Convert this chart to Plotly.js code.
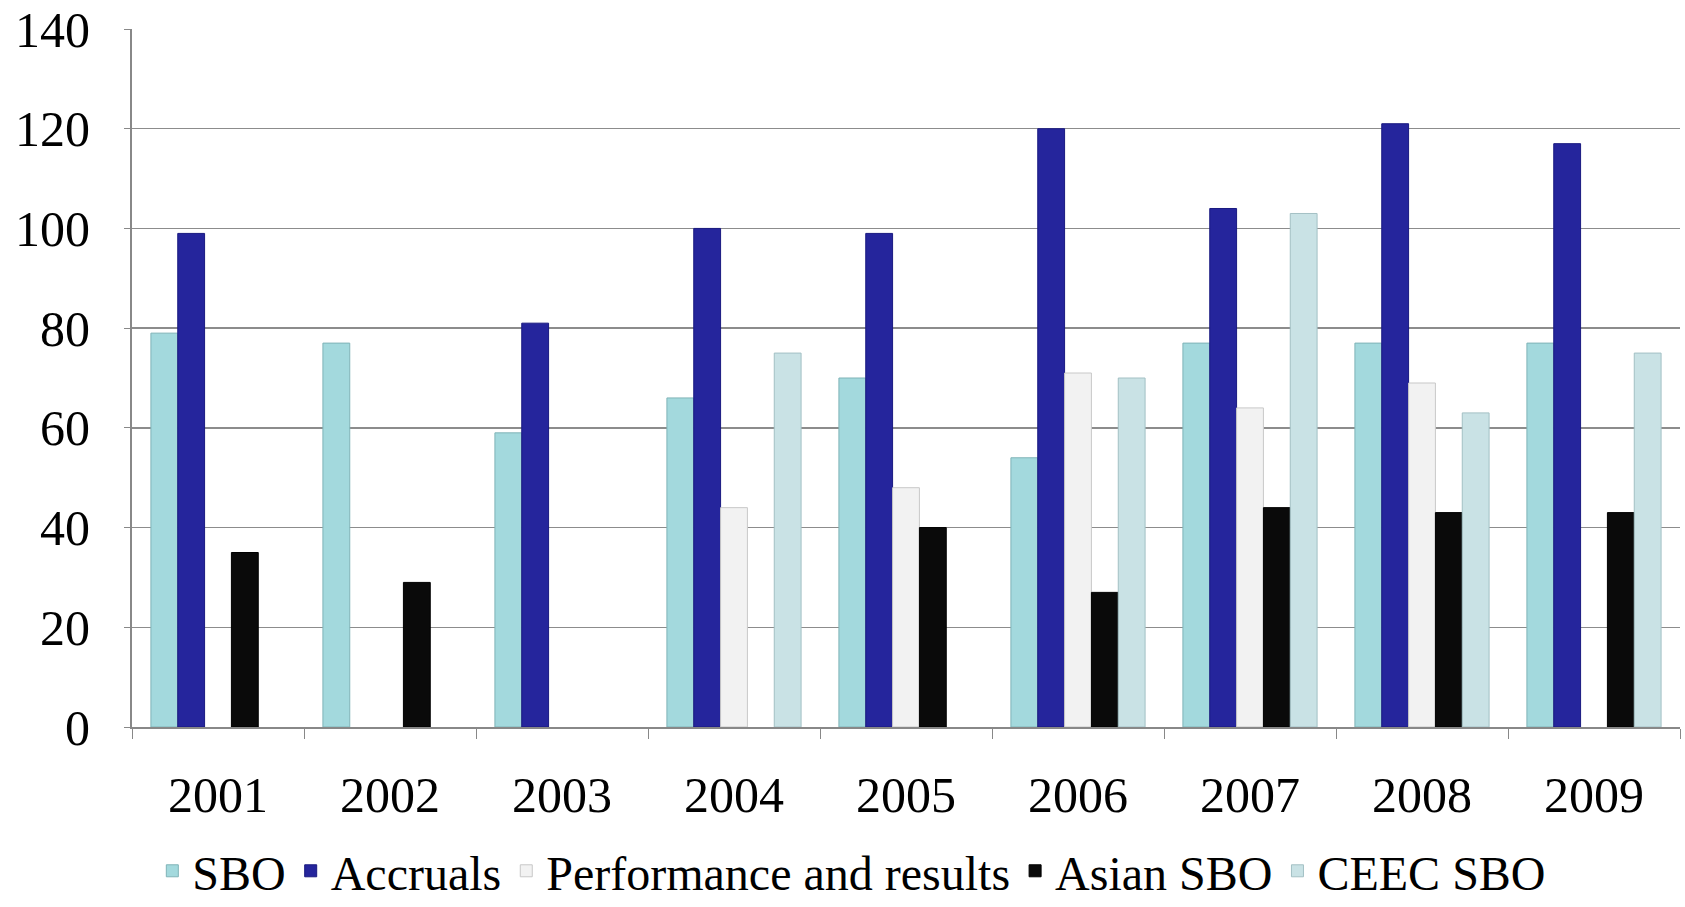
<!DOCTYPE html>
<html>
<head>
<meta charset="utf-8">
<script src="https://cdn.plot.ly/plotly-3.0.1.min.js"></script>
<style>html,body{margin:0;padding:0;background:#fff;}#chart{width:1685px;height:907px;}</style>
</head>
<body>
<div id="chart"></div>
<script>
const years = ["2001","2002","2003","2004","2005","2006","2007","2008","2009"];
const sbo = [79, 77, 59, 66, 70, 54, 77, 77, 77];
const accruals = [99, null, 81, 100, 99, 120, 104, 121, 117];
const performance = [null, null, null, 44, 48, 71, 64, 69, null];
const asianSbo = [35, 29, null, null, 40, 27, 44, 43, 43];
const ceecSbo = [null, null, null, 75, null, 70, 103, 63, 75];
const yTicks = [0, 20, 40, 60, 80, 100, 120, 140];

const series = [
  {name: "SBO", y: sbo, color: "#a3d9dd", line: "#7fb3b7"},
  {name: "Accruals", y: accruals, color: "#25259c", line: "#1a1a80"},
  {name: "Performance and results", y: performance, color: "#f2f2f2", line: "#c8c8c8"},
  {name: "Asian SBO", y: asianSbo, color: "#0a0a0a", line: "#000000"},
  {name: "CEEC SBO", y: ceecSbo, color: "#c9e2e5", line: "#a3c0c4"}
];

const font = "Liberation Serif, Times New Roman, serif";
const traces = series.map(s => ({
  type: "bar", name: s.name, x: years, y: s.y,
  marker: {color: s.color, line: {color: s.line, width: 1}}
}));

const layout = {
  width: 1685, height: 907,
  margin: {l: 132, r: 5, t: 29, b: 180, autoexpand: false},
  paper_bgcolor: "#fff", plot_bgcolor: "#fff",
  barmode: "group", bargap: 0.22, bargroupgap: 0,
  font: {family: font, color: "#000", size: 50},
  xaxis: {
    type: "category", tickson: "boundaries", ticks: "outside", ticklen: 10,
    tickcolor: "#888", showline: true, linecolor: "#888", linewidth: 2,
    tickfont: {family: font, size: 50}, ticklabelstandoff: 23, showgrid: false
  },
  yaxis: {
    range: [0, 140], tickvals: yTicks, ticktext: yTicks.map(String),
    ticks: "outside", ticklen: 6, tickcolor: "#888",
    showline: true, linecolor: "#888", linewidth: 2,
    showgrid: true, gridcolor: "#8c8c8c", gridwidth: 1.5, zeroline: false,
    tickfont: {family: font, size: 50}, ticklabelstandoff: 24
  },
  showlegend: true,
  legend: {
    orientation: "h", x: 0.465, xanchor: "center", y: -0.152, yanchor: "top",
    font: {family: font, size: 48}, itemwidth: 30, tracegroupgap: 0
  }
};

Plotly.newPlot("chart", traces, layout, {displayModeBar: false, staticPlot: true});
</script>
</body>
</html>
